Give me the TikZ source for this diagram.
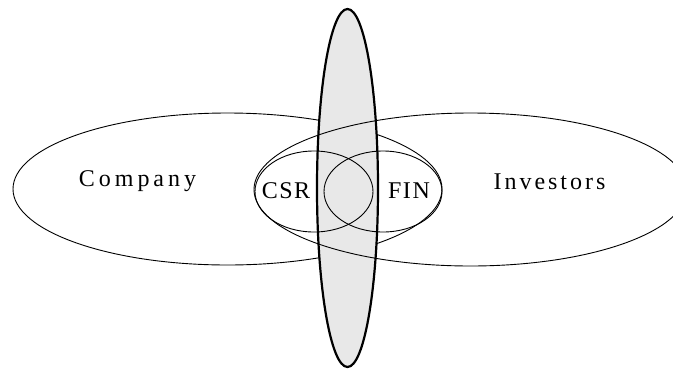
\documentclass[tikz,border=0pt]{standalone}
\usepackage{fontspec}
\setmainfont{Liberation Serif}
\tikzset{
  thinline/.style={draw=black, line width=0.9pt},
  greyband/.style={fill=black!9},
  greyedge/.style={draw=black, line width=2.2pt},
  lbl/.style={font=\fontsize{24}{24}\selectfont, anchor=base, inner sep=0pt}
}
\newcommand{\lsp}[1]{\kern#1}
\begin{document}
\begin{tikzpicture}[x=1pt,y=-1pt]
\useasboundingbox (0,0) rectangle (673,368);
\clip (0,0) rectangle (673,368);
% Company ellipse
\draw[thinline] (227.5,189) ellipse [x radius=214.5pt, y radius=76pt];
% grey band fill
\fill[greyband] (347.5,188) ellipse [x radius=30.5pt, y radius=179.5pt];
% Investors ellipse
\draw[thinline] (470.5,189.5) ellipse [x radius=216.5pt, y radius=76.5pt];
% CSR and FIN ellipses
\draw[thinline] (314,191.5) ellipse [x radius=59pt, y radius=40.5pt];
\draw[thinline] (383,191.5) ellipse [x radius=59pt, y radius=40.5pt];
% grey band outline
\draw[greyedge] (347.5,188) ellipse [x radius=30.5pt, y radius=179pt];
% labels
\node[lbl] (company) at (137.5,186) {C\lsp{4pt}o\lsp{4pt}m\lsp{4pt}p\lsp{4pt}a\lsp{4pt}n\lsp{4pt}y};
\node[lbl] (investors) at (549.5,189) {I\lsp{3pt}n\lsp{3pt}v\lsp{3pt}e\lsp{3pt}s\lsp{3pt}t\lsp{3pt}o\lsp{3pt}r\lsp{3pt}s};
\node[lbl] (csr) at (286,198) {C\lsp{1.5pt}S\lsp{1.5pt}R};
\node[lbl] (fin) at (409,198) {F\lsp{1.5pt}I\lsp{1.5pt}N};
\end{tikzpicture}
\end{document}
